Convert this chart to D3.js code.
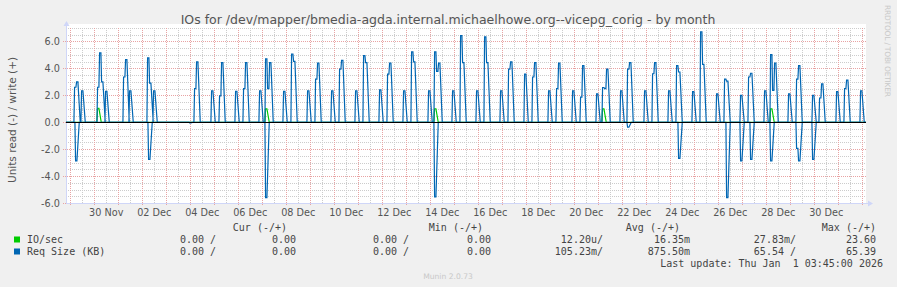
<!DOCTYPE html>
<html>
<head>
<meta charset="utf-8">
<script src="https://cdn.jsdelivr.net/npm/d3@7"></script>
<style>
  body { margin: 0; background: #f0f0f0; }
  svg { display: block; }
</style>
</head>
<body>
<div id="chart"></div>
<script>
const title = "IOs for /dev/mapper/bmedia-agda.internal.michaelhowe.org--vicepg_corig - by month";
const yTitle = "Units read (-) / write (+)";
const endTime = "2026-01-01 03:45";
const spanHours = 800;
const yTicks = [-6, -4, -2, 0, 2, 4, 6];
const xLabelDays = ["2025-11-30", "2025-12-02", "2025-12-04", "2025-12-06", "2025-12-08",
  "2025-12-10", "2025-12-12", "2025-12-14", "2025-12-16", "2025-12-18", "2025-12-20",
  "2025-12-22", "2025-12-24", "2025-12-26", "2025-12-28", "2025-12-30"];

// each entry: start of burst, then one value per 2-hour sample
const ioWrite = [
  ["2025-11-30 03:00", [1.04]], ["2025-12-07 03:00", [1.0]], ["2025-12-14 04:00", [1.0]],
  ["2025-12-21 04:00", [1.0]], ["2025-12-28 04:00", [1.0]]
];
const reqWrite = [
  ["2025-11-29 04:00", [2.6, 3.0]], ["2025-11-29 11:00", [2.34]],
  ["2025-11-30 03:00", [2.6, 5.15, 3.0]], ["2025-11-30 11:00", [2.3]],
  ["2025-12-01 05:00", [3.36, 4.65]], ["2025-12-01 11:00", [2.34]],
  ["2025-12-02 05:00", [4.78, 2.9]], ["2025-12-02 11:00", [2.34]],
  ["2025-12-04 04:00", [2.5, 4.48]], ["2025-12-04 21:00", [2.34]],
  ["2025-12-05 05:00", [1.96, 4.43]], ["2025-12-05 21:00", [2.3]],
  ["2025-12-06 05:00", [2.5, 4.43]], ["2025-12-06 21:00", [2.34]],
  ["2025-12-07 03:00", [4.7, 2.5, 4.43]], ["2025-12-07 21:00", [2.3]],
  ["2025-12-08 05:00", [5.07, 4.52]], ["2025-12-08 21:00", [2.34]],
  ["2025-12-09 05:00", [3.2, 4.4]], ["2025-12-09 21:00", [2.34]],
  ["2025-12-10 05:00", [3.95, 4.6]], ["2025-12-10 21:00", [2.34]],
  ["2025-12-11 05:00", [4.95, 4.43]], ["2025-12-11 21:00", [2.4]],
  ["2025-12-12 05:00", [3.58, 4.4]], ["2025-12-12 21:00", [2.34]],
  ["2025-12-13 05:00", [5.22, 4.48]], ["2025-12-13 22:00", [2.34]],
  ["2025-12-14 04:00", [5.22, 3.78, 4.4]], ["2025-12-14 22:00", [2.34]],
  ["2025-12-15 06:00", [6.44, 4.43]], ["2025-12-15 22:00", [2.34]],
  ["2025-12-16 06:00", [6.34, 4.43]], ["2025-12-16 22:00", [2.34]],
  ["2025-12-17 06:00", [3.95, 4.48]], ["2025-12-17 22:00", [3.58]],
  ["2025-12-18 06:00", [3.36, 4.43]], ["2025-12-18 22:00", [2.34]],
  ["2025-12-19 06:00", [2.5, 4.4]], ["2025-12-19 22:00", [2.34]],
  ["2025-12-20 06:00", [1.87, 4.2]], ["2025-12-20 22:00", [2.1]],
  ["2025-12-21 04:00", [2.58, 2.5, 3.95]], ["2025-12-21 22:00", [2.34]],
  ["2025-12-22 05:00", [3.95, 4.43]], ["2025-12-22 22:00", [2.34]],
  ["2025-12-23 06:00", [3.6, 4.43]], ["2025-12-23 22:00", [2.34]],
  ["2025-12-24 06:00", [4.2, 3.73]], ["2025-12-24 22:00", [2.27]],
  ["2025-12-25 06:00", [6.72, 4.3]], ["2025-12-25 22:00", [2.1]],
  ["2025-12-26 06:00", [3.2, 3.05]], ["2025-12-26 22:00", [2.0]],
  ["2025-12-27 06:00", [3.36, 3.64]], ["2025-12-27 22:00", [2.34]],
  ["2025-12-28 04:00", [5.02, 2.37, 4.4]], ["2025-12-28 22:00", [2.1]],
  ["2025-12-29 06:00", [3.2, 4.2]], ["2025-12-29 22:00", [2.0]],
  ["2025-12-30 05:00", [1.8, 2.85]], ["2025-12-30 22:00", [2.27]],
  ["2025-12-31 06:00", [2.5, 3.13]], ["2025-12-31 22:00", [2.34]]
];
// read side, drawn below zero
const reqRead = [
  ["2025-11-29 05:00", [2.87]], ["2025-12-02 06:00", [2.77]], ["2025-12-03 23:00", [0.05]],
  ["2025-12-07 03:00", [5.6]], ["2025-12-14 04:00", [5.55]], ["2025-12-22 05:00", [0.37]],
  ["2025-12-24 08:00", [2.69]], ["2025-12-26 08:00", [5.6]], ["2025-12-26 22:00", [2.87]],
  ["2025-12-27 08:00", [2.77]], ["2025-12-28 04:00", [2.87]], ["2025-12-29 06:00", [1.94, 2.87]],
  ["2025-12-29 22:00", [2.77]]
];

const legendNames = ["IO/sec", "Req Size (KB)"];
const legendColors = ["#00cc00", "#0066b3"];
const legendHeaders = ["Cur (-/+)", "Min (-/+)", "Avg (-/+)", "Max (-/+)"];
const legendIo = ["0.00 /", "0.00", "0.00 /", "0.00", "12.20u/", "16.35m", "27.83m/", "23.60"];
const legendReq = ["0.00 /", "0.00", "0.00 /", "0.00", "105.23m/", "875.50m", "65.54 /", "65.39"];
const lastUpdate = "Last update: Thu Jan  1 03:45:00 2026";
const version = "Munin 2.0.73";
const watermark = "RRDTOOL / TOBI OETIKER";

const W = 897, H = 287;
const plot = {left: 66, right: 866, top: 28, bottom: 203};
const parse = d3.utcParse("%Y-%m-%d %H:%M");
const parseDay = d3.utcParse("%Y-%m-%d");

const end = parse(endTime);
const start = d3.utcHour.offset(end, -spanHours);

const x = d3.scaleUtc().domain([start, end]).range([plot.left, plot.right]);
const y = d3.scaleLinear().domain([-6, 7]).range([plot.bottom, plot.top]);

const svg = d3.select("#chart").append("svg")
  .attr("width", W).attr("height", H)
  .style("font-family", "'DejaVu Sans', sans-serif");

svg.append("rect").attr("width", W).attr("height", H).attr("fill", "#f0f0f0");
svg.append("rect")
  .attr("x", plot.left).attr("y", plot.top - 4)
  .attr("width", plot.right - plot.left).attr("height", plot.bottom - plot.top + 4)
  .attr("fill", "#ffffff");

const px = v => Math.round(v) + 0.5;

// grid
const grid = svg.append("g").attr("shape-rendering", "crispEdges").attr("stroke-dasharray", "1,1");
const minorY = d3.range(-6, 7.01, 0.5).filter(v => Math.abs(v % 2) > 0.01);
grid.selectAll(".gy").data(minorY).join("line")
  .attr("x1", plot.left).attr("x2", plot.right)
  .attr("y1", d => px(y(d))).attr("y2", d => px(y(d)))
  .attr("stroke", "#cccccc");
const hours12 = d3.utcHour.every(12).range(start, end).filter(d => d.getUTCHours() === 12);
grid.selectAll(".gx").data(hours12).join("line")
  .attr("x1", d => px(x(d))).attr("x2", d => px(x(d)))
  .attr("y1", plot.top).attr("y2", plot.bottom)
  .attr("stroke", "#cccccc");
grid.selectAll(".my").data(yTicks).join("line")
  .attr("x1", plot.left - 3).attr("x2", plot.right)
  .attr("y1", d => px(y(d))).attr("y2", d => px(y(d)))
  .attr("stroke", "#e8a3a3");
const days = d3.utcDay.range(start, end);
grid.selectAll(".mx").data(days).join("line")
  .attr("x1", d => px(x(d))).attr("x2", d => px(x(d)))
  .attr("y1", plot.top).attr("y2", plot.bottom + 3)
  .attr("stroke", "#e8a3a3");

// axes
const axisColor = "#cfd6f8";
svg.append("line").attr("x1", px(plot.left)).attr("x2", px(plot.left))
  .attr("y1", plot.top - 4).attr("y2", plot.bottom + 1)
  .attr("stroke", axisColor).attr("shape-rendering", "crispEdges");
svg.append("line").attr("x1", plot.left).attr("x2", plot.right + 3)
  .attr("y1", px(plot.bottom)).attr("y2", px(plot.bottom))
  .attr("stroke", axisColor).attr("shape-rendering", "crispEdges");
svg.append("path")
  .attr("d", `M${plot.left + 0.5 - 3},${plot.top - 2}L${plot.left + 0.5 + 3},${plot.top - 2}L${plot.left + 0.5},${plot.top - 7}Z`)
  .attr("fill", axisColor);
svg.append("path")
  .attr("d", `M${plot.right + 2},${plot.bottom + 0.5 - 3}L${plot.right + 2},${plot.bottom + 0.5 + 3}L${plot.right + 7},${plot.bottom + 0.5}Z`)
  .attr("fill", axisColor);

// tick labels
svg.append("g").selectAll("text").data(yTicks).join("text")
  .attr("x", 60).attr("y", d => y(d) + 3.5)
  .attr("text-anchor", "end")
  .attr("font-size", "9.7px").attr("fill", "#555")
  .text(d => d.toFixed(1));
const fmtDay = d3.utcFormat("%d %b");
svg.append("g").selectAll("text").data(xLabelDays.map(parseDay)).join("text")
  .attr("x", d => x(d3.utcHour.offset(d, 12))).attr("y", 216)
  .attr("text-anchor", "middle")
  .attr("font-size", "9.7px").attr("fill", "#555")
  .text(d => fmtDay(d));

// series: steep rise, slower fall, like rrdtool's per-pixel line
function burstPoints(bursts, sign) {
  const pts = [[start, 0]];
  bursts.forEach(([s, vals]) => {
    const t0 = parse(s);
    const n = vals.length;
    pts.push([d3.utcMinute.offset(t0, -20), 0]);
    vals.forEach((v, i) => {
      pts.push([d3.utcMinute.offset(t0, i * 120 + 20), sign * v]);
      pts.push([d3.utcMinute.offset(t0, i * 120 + 100), sign * v]);
    });
    pts.push([d3.utcMinute.offset(t0, n * 120 + 120), 0]);
  });
  pts.push([end, 0]);
  return pts;
}
const line = d3.line().x(d => x(d[0])).y(d => y(d[1]));

svg.append("path").datum(burstPoints(ioWrite, 1))
  .attr("d", line).attr("fill", "none").attr("stroke", legendColors[0]).attr("stroke-width", 1.2);
svg.append("path").datum(burstPoints(reqWrite, 1))
  .attr("d", line).attr("fill", "none").attr("stroke", legendColors[1]).attr("stroke-width", 1.2);
svg.append("path").datum(burstPoints(reqRead, -1))
  .attr("d", line).attr("fill", "none").attr("stroke", legendColors[1]).attr("stroke-width", 1.2);

svg.append("line").attr("x1", plot.left).attr("x2", plot.right)
  .attr("y1", px(y(0))).attr("y2", px(y(0)))
  .attr("stroke", "#000").attr("shape-rendering", "crispEdges");

// titles
svg.append("text").attr("x", 448).attr("y", 24)
  .attr("text-anchor", "middle").attr("font-size", "12.5px").attr("fill", "#555")
  .text(title);
svg.append("text").attr("transform", "translate(16,120) rotate(-90)")
  .attr("text-anchor", "middle").attr("font-size", "10.5px").attr("fill", "#555")
  .text(yTitle);
svg.append("text").attr("transform", "translate(885,5) rotate(90)")
  .attr("font-size", "7.5px").attr("fill", "#c8c8c8")
  .attr("textLength", 92).attr("lengthAdjust", "spacing")
  .text(watermark);

// legend
const mono = "'DejaVu Sans Mono', monospace";
const headerX = [287, 483, 680, 876];
const colX = [216, 296, 409, 491, 603, 690, 796, 876];
const legend = svg.append("g").style("font-family", mono).attr("font-size", "10px").attr("fill", "#444");
legend.selectAll(".hdr").data(legendHeaders).join("text")
  .attr("x", (d, i) => headerX[i]).attr("y", 230.5).attr("text-anchor", "end")
  .style("white-space", "pre").text(d => d);
[legendIo, legendReq].forEach((row, r) => {
  const yy = 242.5 + r * 12;
  legend.append("rect").attr("x", 14).attr("y", yy - 6).attr("width", 6).attr("height", 6)
    .attr("fill", legendColors[r]);
  legend.append("text").attr("x", 27).attr("y", yy).style("white-space", "pre").text(legendNames[r]);
  legend.selectAll(".r" + r).data(row).join("text")
    .attr("x", (d, i) => colX[i]).attr("y", yy).attr("text-anchor", "end")
    .style("white-space", "pre").text(d => d);
});
legend.append("text").attr("x", 883).attr("y", 266.5).attr("text-anchor", "end")
  .style("white-space", "pre").text(lastUpdate);

svg.append("text").attr("x", 448).attr("y", 278.5).attr("text-anchor", "middle")
  .attr("font-size", "7.6px").attr("fill", "#c8c8c8").text(version);
</script>
</body>
</html>
